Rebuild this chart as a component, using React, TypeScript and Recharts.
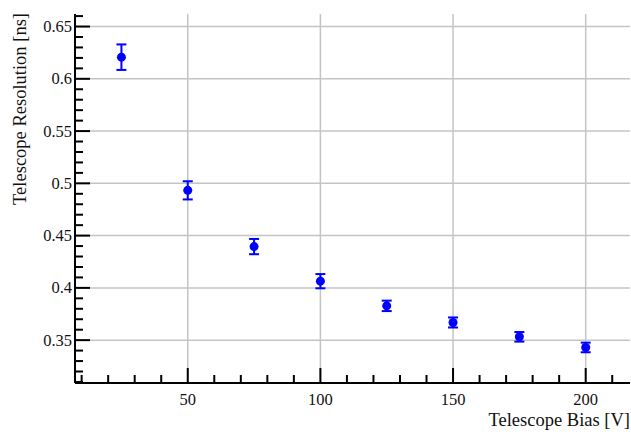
import { ScatterChart, Scatter, XAxis, YAxis, ErrorBar, ReferenceLine } from 'recharts';

const bias = [25, 50, 75, 100, 125, 150, 175, 200];
const resolution = [0.6207, 0.4933, 0.4395, 0.4064, 0.3828, 0.3669, 0.3532, 0.343];
const resolutionErr = [0.0122, 0.0087, 0.0073, 0.0068, 0.005, 0.0048, 0.0046, 0.0046];

const xMajor = [50, 100, 150, 200];
const xTicks = [10, 20, 30, 40, 50, 60, 70, 80, 90, 100, 110, 120, 130, 140, 150, 160, 170, 180, 190, 200, 210];
const yMajor = [0.35, 0.4, 0.45, 0.5, 0.55, 0.6, 0.65];
const yTicks = [
  0.31, 0.32, 0.33, 0.34, 0.35, 0.36, 0.37, 0.38, 0.39, 0.4, 0.41, 0.42, 0.43, 0.44, 0.45, 0.46, 0.47, 0.48,
  0.49, 0.5, 0.51, 0.52, 0.53, 0.54, 0.55, 0.56, 0.57, 0.58, 0.59, 0.6, 0.61, 0.62, 0.63, 0.64, 0.65, 0.66,
];

const data = bias.map((b, i) => ({ x: b, y: resolution[i], err: resolutionErr[i] }));

const FONT = '"Liberation Serif", "Times New Roman", serif';
const MAJOR = 15;
const MINOR = 8;
const tickText = { fontFamily: FONT, fontSize: 16.5 };
const titleText = { fontFamily: FONT, fontSize: 18.5 };

function BottomTick(props: any) {
  const { x, y, payload } = props;
  const major = xMajor.includes(payload.value);
  return (
    <g>
      <line x1={x} x2={x} y1={y} y2={y - (major ? MAJOR : MINOR)} stroke="#000" strokeWidth={2} />
      {major && (
        <text x={x} y={y + 22} textAnchor="middle" style={tickText} fill="#111">
          {payload.value}
        </text>
      )}
    </g>
  );
}

function TopTick(props: any) {
  const { x, y, payload } = props;
  const major = xMajor.includes(payload.value);
  return <line x1={x} x2={x} y1={y} y2={y + (major ? MAJOR : MINOR)} stroke="#000" strokeWidth={2} />;
}

function LeftTick(props: any) {
  const { x, y, payload } = props;
  const major = yMajor.includes(payload.value);
  return (
    <g>
      <line x1={x} x2={x + (major ? MAJOR : MINOR)} y1={y} y2={y} stroke="#000" strokeWidth={2} />
      {major && (
        <text x={x - 3} y={y + 5.5} textAnchor="end" style={tickText} fill="#111">
          {String(payload.value)}
        </text>
      )}
    </g>
  );
}

function RightTick(props: any) {
  const { x, y, payload } = props;
  const major = yMajor.includes(payload.value);
  return <line x1={x} x2={x - (major ? MAJOR : MINOR)} y1={y} y2={y} stroke="#000" strokeWidth={2} />;
}

function Dot(props: any) {
  return <circle cx={props.cx} cy={props.cy} r={4.5} fill="#0000ff" />;
}

export default function App() {
  const axisLine = { stroke: '#000', strokeWidth: 2 };
  return (
    <div style={{ position: 'fixed', left: 0, top: 0, width: 631, height: 432, background: '#fff' }}>
      <ScatterChart width={631} height={432} margin={{ top: 14, right: 1, bottom: 0, left: 0 }}>
        <XAxis
          xAxisId="b"
          dataKey="x"
          type="number"
          domain={[7.5, 216.7]}
          allowDataOverflow
          ticks={xTicks}
          interval={0}
          tickSize={0}
          tickMargin={0}
          tickLine={false}
          tick={<BottomTick />}
          axisLine={axisLine}
          height={49}
          label={{
            content: () => (
              <text x={630} y={426} textAnchor="end" style={titleText} fill="#111">
                Telescope Bias [V]
              </text>
            ),
          }}
        />
        <XAxis
          xAxisId="t"
          orientation="top"
          type="number"
          domain={[7.5, 216.7]}
          allowDataOverflow
          ticks={xTicks}
          interval={0}
          tickSize={0}
          tickMargin={0}
          tickLine={false}
          tick={<TopTick />}
          axisLine={axisLine}
          height={0}
        />
        <YAxis
          yAxisId="l"
          dataKey="y"
          type="number"
          domain={[0.309, 0.662]}
          allowDataOverflow
          ticks={yTicks}
          interval={0}
          tickSize={0}
          tickMargin={0}
          tickLine={false}
          tick={<LeftTick />}
          axisLine={axisLine}
          width={75}
          label={{
            content: () => (
              <text x={26} y={13} transform="rotate(-90 26 13)" textAnchor="end" style={titleText} fill="#111">
                Telescope Resolution [ns]
              </text>
            ),
          }}
        />
        <YAxis
          yAxisId="r"
          orientation="right"
          type="number"
          domain={[0.309, 0.662]}
          allowDataOverflow
          ticks={yTicks}
          interval={0}
          tickSize={0}
          tickMargin={0}
          tickLine={false}
          tick={<RightTick />}
          axisLine={axisLine}
          width={0}
        />
        {xMajor.map((v) => (
          <ReferenceLine key={'gx' + v} xAxisId="b" yAxisId="l" x={v} stroke="#c4c4c4" strokeWidth={1.5} />
        ))}
        {yMajor.map((v) => (
          <ReferenceLine key={'gy' + v} xAxisId="b" yAxisId="l" y={v} stroke="#c4c4c4" strokeWidth={1.5} />
        ))}
        <Scatter data={data} xAxisId="b" yAxisId="l" shape={<Dot />} isAnimationActive={false}>
          <ErrorBar dataKey="err" direction="y" width={5} stroke="#0000ff" strokeWidth={2} />
        </Scatter>
      </ScatterChart>
    </div>
  );
}
